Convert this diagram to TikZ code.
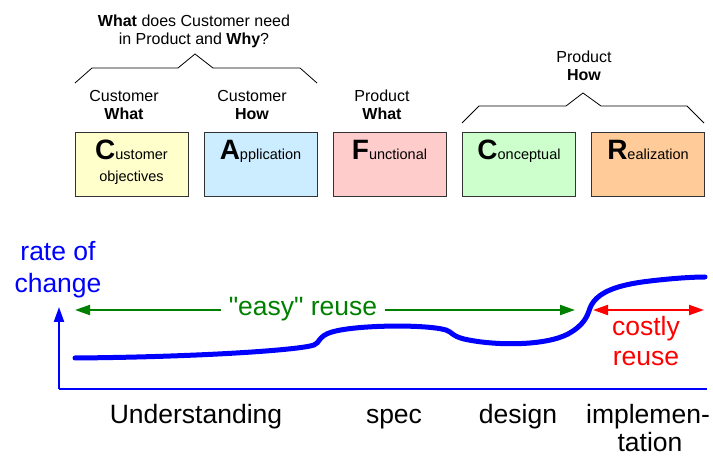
\documentclass[tikz,border=0pt]{standalone}
\usepackage{fontspec}
\setmainfont{Liberation Sans}
% same face without the TeX quote mapping, for straight quotes
\newfontfamily\rawsans{Liberation Sans}
\usetikzlibrary{arrows.meta,calc}
\definecolor{cyellow}{HTML}{FFFFCC}
\definecolor{cblue}{HTML}{CCECFF}
\definecolor{cpink}{HTML}{FFCCCC}
\definecolor{cgreen}{HTML}{CCFFCC}
\definecolor{corange}{HTML}{FFCC99}
\definecolor{dgreen}{HTML}{008000}
\newcommand{\initial}[1]{{\fontsize{28}{30}\selectfont\bfseries #1}}
\begin{document}
\begin{tikzpicture}[x=1pt,y=-1pt,
  cafcr/.style={draw=black!80,line width=0.8pt,minimum width=113pt,minimum height=64pt,inner sep=0pt},
  boxtext/.style={anchor=base,inner sep=0pt,font=\fontsize{14.5}{17}\selectfont},
  toplabel/.style={anchor=base,inner sep=0pt,font=\fontsize{16}{19}\selectfont},
  brace/.style={draw=black,line width=0.8pt},
  lowlabel/.style={anchor=base,inner sep=0pt,font=\fontsize{26.5}{30}\selectfont},
  axis/.style={draw=blue,line width=2.2pt},
  tip/.style={-{Triangle[length=15pt,width=10pt]}}]
\useasboundingbox (0,0) rectangle (713,457);

% the five CAFCR views
\node[cafcr,fill=cyellow] (cust) at (131.5,164) {};
\node[cafcr,fill=cblue]   (appl) at (260.5,164) {};
\node[cafcr,fill=cpink]   (func) at (389.5,164) {};
\node[cafcr,fill=cgreen]  (conc) at (519,164) {};
\node[cafcr,fill=corange] (real) at (648,164) {};

\node[boxtext] (custt) at ($(cust.north)+(0,28)$) {\initial{C}ustomer};
\node[boxtext] (custo) at ($(cust.north)+(0,50)$) {objectives};
\node[boxtext] (applt) at ($(appl.north)+(0,28)$) {\initial{A}pplication};
\node[boxtext] (funct) at ($(func.north)+(0,28)$) {\initial{F}unctional};
\node[boxtext] (conct) at ($(conc.north)+(0,28)$) {\initial{C}onceptual};
\node[boxtext] (realt) at ($(real.north)+(0,28)$) {\initial{R}ealization};

% labels above the views
\node[toplabel] (cw1) at (124,102) {Customer};
\node[toplabel] (cw2) at (124,120) {\bfseries What};
\node[toplabel] (ch1) at (252,102) {Customer};
\node[toplabel] (ch2) at (252,120) {\bfseries How};
\node[toplabel] (pw1) at (382,102) {Product};
\node[toplabel] (pw2) at (382,120) {\bfseries What};
\node[toplabel] (ph1) at (584,63) {Product};
\node[toplabel] (ph2) at (584,81) {\bfseries How};
\node[toplabel] (q1) at (194,27) {\bfseries What\mdseries{} does Customer need};
\node[toplabel] (q2) at (194,45) {in Product and \textbf{Why}?};

% grouping brackets
\draw[brace] (75,83) -- (92,68) -- (178,68) -- (195,54) -- (213,68) -- (300,68) -- (317,83);
\draw[brace] (462,123) -- (479,106) -- (566,106) -- (583,93) -- (601,106) -- (687,106) -- (704,123);

% rate-of-change graph
\coordinate (org) at (59,389);
\coordinate (ytop) at (59,307);
\coordinate (xend) at (707,389);
\draw[axis] (xend) -- (org);
\draw[axis,tip] (org) -- (ytop);

\node[anchor=base,inner sep=0pt,text=blue,font=\fontsize{26.5}{30}\selectfont] (r1) at (58,261) {rate of};
\node[anchor=base,inner sep=0pt,text=blue,font=\fontsize{26.5}{30}\selectfont] (r2) at (58,293) {change};

\draw[blue,line width=5pt,line cap=round]
  (75,358) .. controls (200,357) and (300,350) .. (314,345)
  .. controls (320,343) and (318,336) .. (332,332)
  .. controls (355,325) and (425,324) .. (446,330)
  .. controls (452,332) and (452,336) .. (464,339)
  .. controls (495,346) and (545,346) .. (568,334)
  .. controls (584,325) and (587,317) .. (590,308)
  .. controls (596,293) and (615,285) .. (650,281)
  .. controls (675,278) and (695,277) .. (705,277);

% reuse ranges
\coordinate (ga) at (75,310);
\coordinate (gb) at (575,310);
\coordinate (ra) at (593,310);
\coordinate (rb) at (704,310);
\draw[dgreen,line width=2pt,tip] (303,310) -- (ga);
\draw[dgreen,line width=2pt,tip] (303,310) -- (gb);
\node[fill=white,inner xsep=8pt,inner ysep=2pt,text=dgreen,font=\rawsans\fontsize{26.5}{30}\selectfont] (easy) at (303,309) {"easy" reuse};
\draw[red,line width=2pt,{Triangle[length=15pt,width=10pt]}-{Triangle[length=15pt,width=10pt]}] (ra) -- (rb);
\node[anchor=base,inner sep=0pt,text=red,font=\fontsize{26.5}{30}\selectfont] (c1) at (646,336) {costly};
\node[anchor=base,inner sep=0pt,text=red,font=\fontsize{26.5}{30}\selectfont] (c2) at (646,366) {reuse};

% phases along the axis
\node[lowlabel] (ph_u) at (196,423) {Understanding};
\node[lowlabel] (ph_s) at (394,423) {spec};
\node[lowlabel] (ph_d) at (518,423) {design};
\node[lowlabel] (ph_i) at (648,423) {implemen-};
\node[lowlabel] (ph_t) at (650,451) {tation};
\end{tikzpicture}
\end{document}
